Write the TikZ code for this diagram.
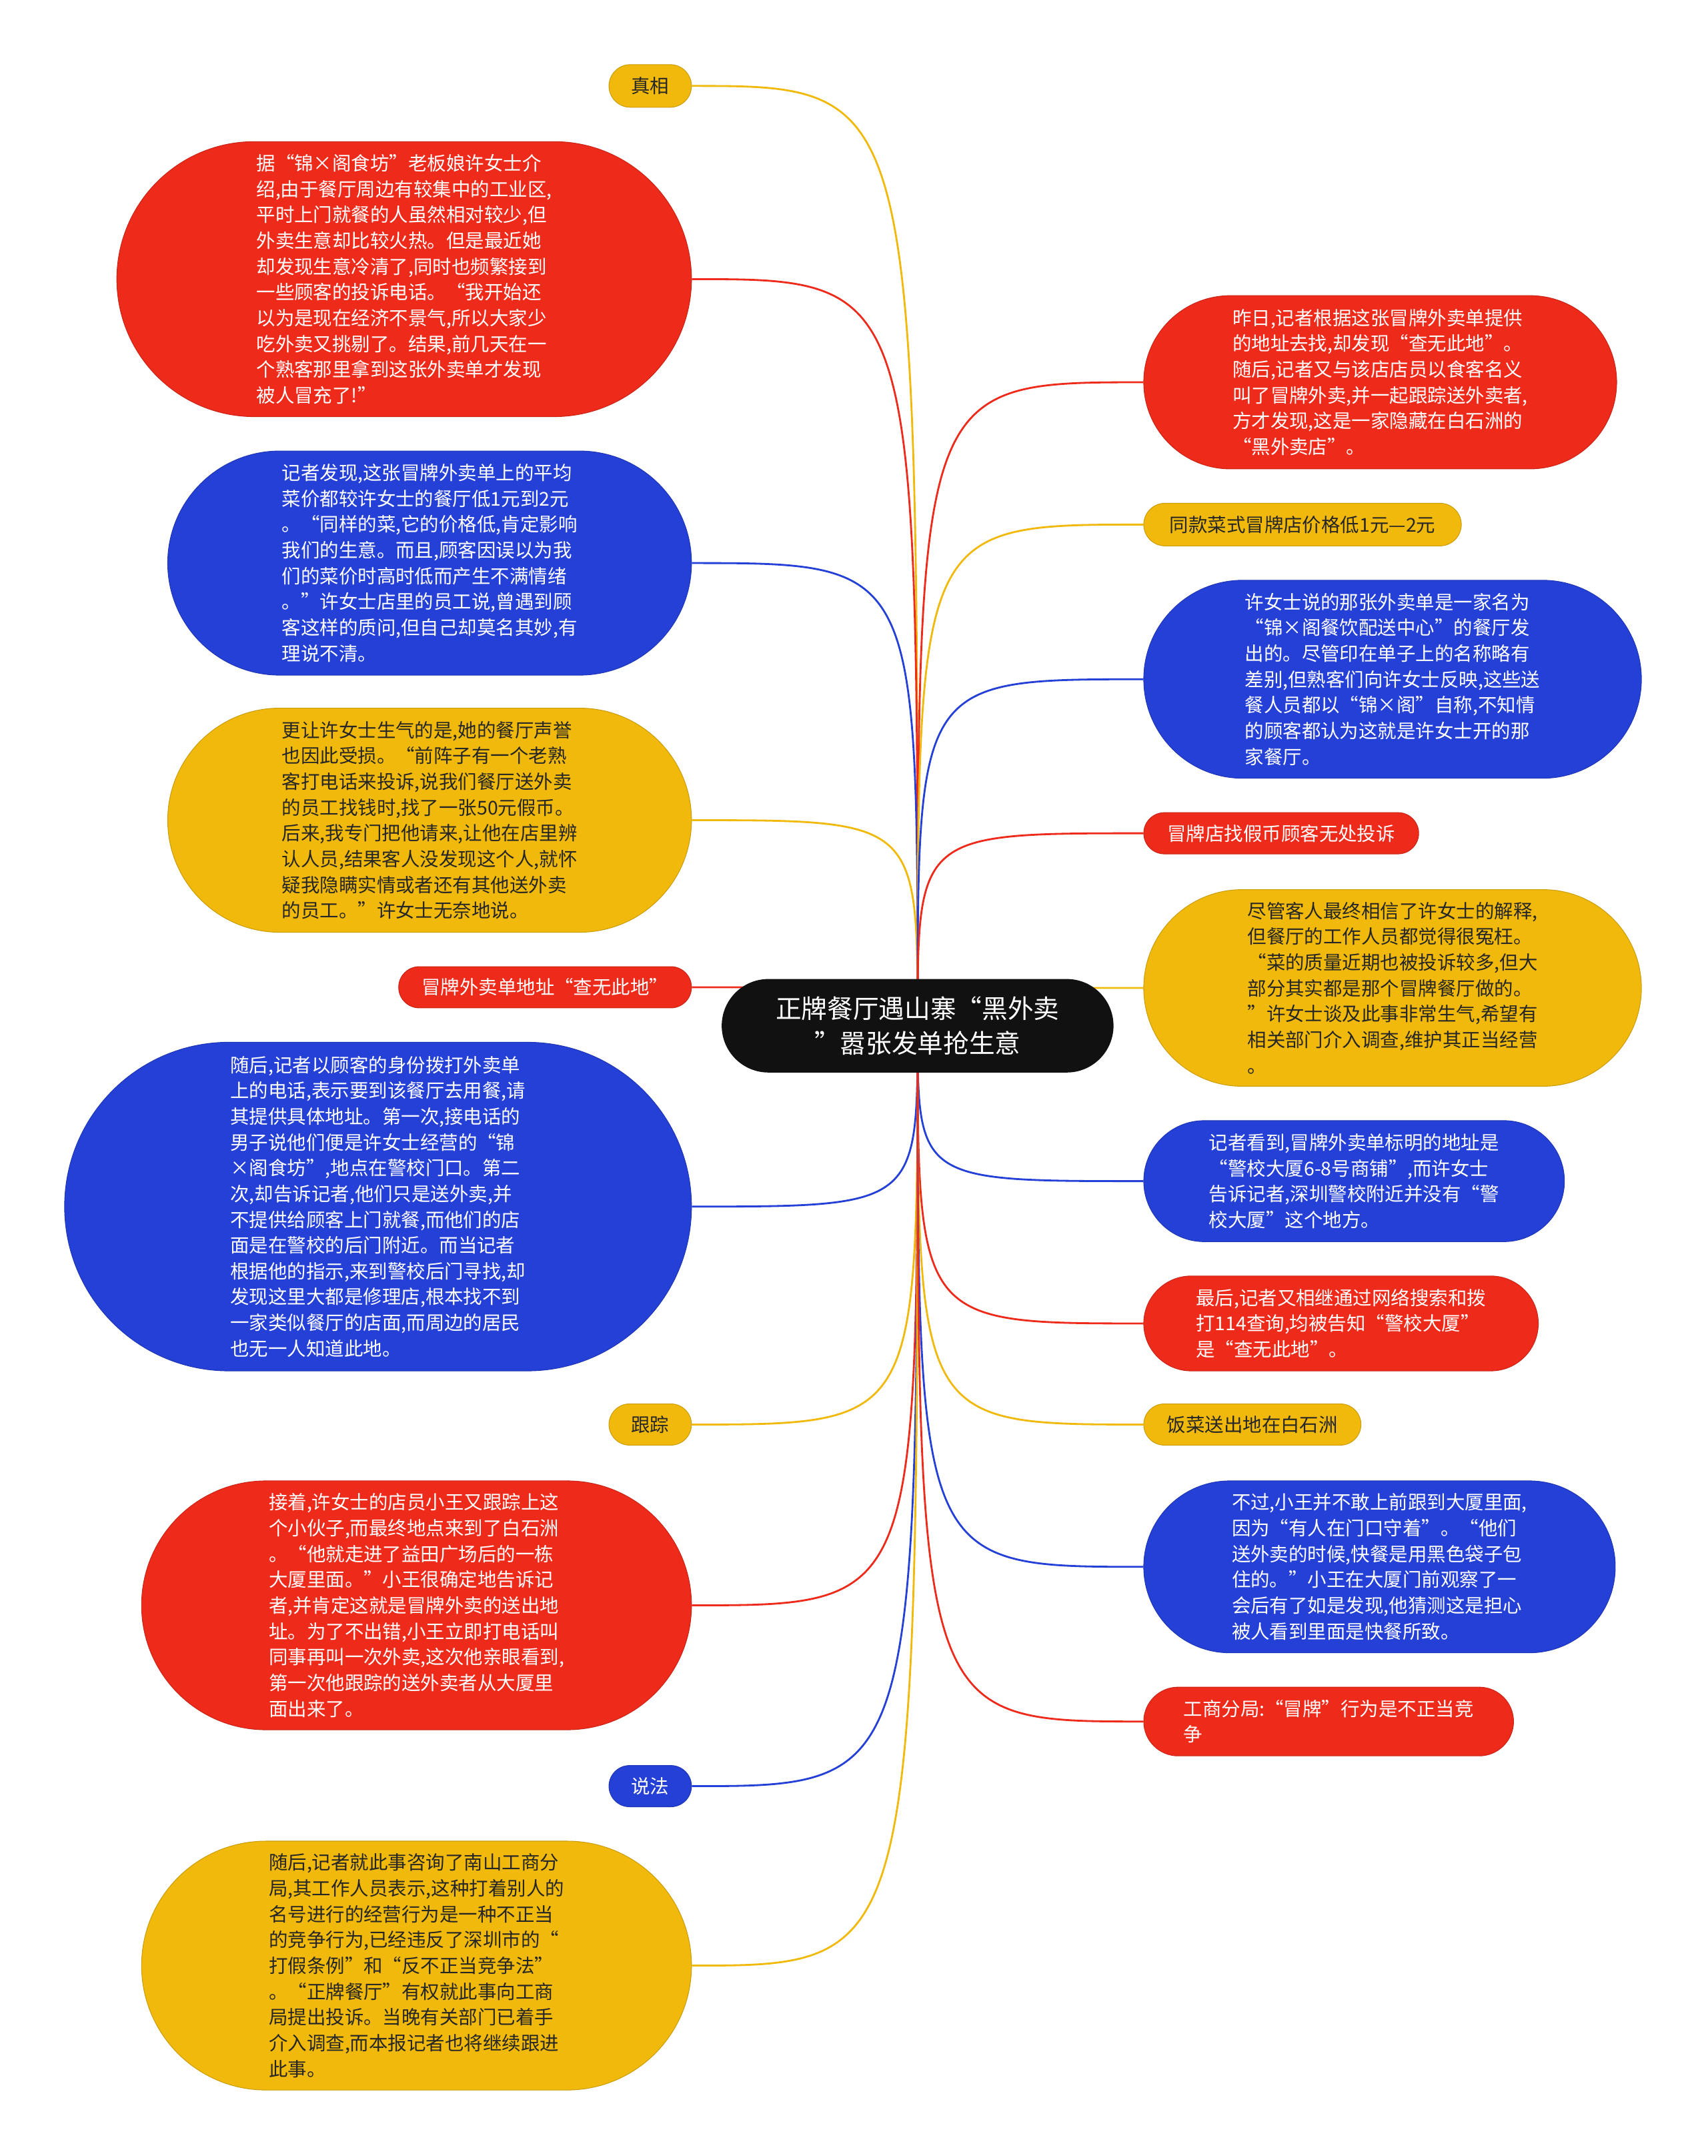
\documentclass[tikz,border=0pt]{standalone}
\usepackage{fontspec}
\setmainfont{Noto Sans CJK SC}
\usepackage{tikz}
\usetikzlibrary{shapes.misc,backgrounds}
\definecolor{MapRed}{RGB}{238,42,27}
\definecolor{MapBlue}{RGB}{36,64,214}
\definecolor{MapYel}{RGB}{240,185,12}
\definecolor{MapInk}{RGB}{17,17,17}
\definecolor{YelText}{RGB}{38,38,38}
\tikzset{
  topic/.style={rounded rectangle,fill=MapInk,text=white,inner sep=0pt,
                align=center,font=\fontsize{11}{14.6}\selectfont},
  leaf/.style={rounded rectangle,inner sep=0pt,align=left,
               font=\fontsize{8.1}{11}\selectfont},
  rd/.style={leaf,fill=MapRed,draw=MapRed!85!black,line width=0.3pt,text=white},
  bl/.style={leaf,fill=MapBlue,draw=MapBlue!85!black,line width=0.3pt,text=white},
  yl/.style={leaf,fill=MapYel,draw=MapYel!85!black,line width=0.3pt,text=YelText},
  sz/.style 2 args={minimum width=#1*0.020612cm,minimum height=#2*0.020612cm},
  rlink/.style={MapRed,line width=0.8pt},
  blink/.style={MapBlue,line width=0.8pt},
  ylink/.style={MapYel,line width=0.8pt},
}
\begin{document}
\begin{tikzpicture}[x=0.020612cm,y=-0.020612cm]
  \useasboundingbox (0,0) rectangle (1242,1568);
  \node[topic,sz={285}{68}] (ctr) at (667.5,746) {正牌餐厅遇山寨“黑外卖\\”嚣张发单抢生意};
  % left branch
  \node[yl,sz={60}{31}] (truth) at (473,62.5) {真相};
  \node[rd,sz={418}{200}] (boss) at (294,203) {据“锦×阁食坊”老板娘许女士介\\绍,由于餐厅周边有较集中的工业区,\\平时上门就餐的人虽然相对较少,但\\外卖生意却比较火热。但是最近她\\却发现生意冷清了,同时也频繁接到\\一些顾客的投诉电话。“我开始还\\以为是现在经济不景气,所以大家少\\吃外卖又挑剔了。结果,前几天在一\\个熟客那里拿到这张外卖单才发现\\被人冒充了!”};
  \node[bl,sz={381}{163}] (price) at (312.5,409.5) {记者发现,这张冒牌外卖单上的平均\\菜价都较许女士的餐厅低1元到2元\\。“同样的菜,它的价格低,肯定影响\\我们的生意。而且,顾客因误以为我\\们的菜价时高时低而产生不满情绪\\。”许女士店里的员工说,曾遇到顾\\客这样的质问,但自己却莫名其妙,有\\理说不清。};
  \node[yl,sz={381}{163}] (fame) at (312.5,596.5) {更让许女士生气的是,她的餐厅声誉\\也因此受损。“前阵子有一个老熟\\客打电话来投诉,说我们餐厅送外卖\\的员工找钱时,找了一张50元假币。\\后来,我专门把他请来,让他在店里辨\\认人员,结果客人没发现这个人,就怀\\疑我隐瞒实情或者还有其他送外卖\\的员工。”许女士无奈地说。};
  \node[rd,sz={213}{30}] (addr) at (396.5,718) {冒牌外卖单地址“查无此地”};
  \node[bl,sz={456}{239}] (call) at (275,877.5) {随后,记者以顾客的身份拨打外卖单\\上的电话,表示要到该餐厅去用餐,请\\其提供具体地址。第一次,接电话的\\男子说他们便是许女士经营的“锦\\×阁食坊”,地点在警校门口。第二\\次,却告诉记者,他们只是送外卖,并\\不提供给顾客上门就餐,而他们的店\\面是在警校的后门附近。而当记者\\根据他的指示,来到警校后门寻找,却\\发现这里大都是修理店,根本找不到\\一家类似餐厅的店面,而周边的居民\\也无一人知道此地。};
  \node[yl,sz={60}{30}] (track) at (473,1036) {跟踪};
  \node[rd,sz={400}{181}] (follow) at (303,1167.5) {接着,许女士的店员小王又跟踪上这\\个小伙子,而最终地点来到了白石洲\\。“他就走进了益田广场后的一栋\\大厦里面。”小王很确定地告诉记\\者,并肯定这就是冒牌外卖的送出地\\址。为了不出错,小王立即打电话叫\\同事再叫一次外卖,这次他亲眼看到,\\第一次他跟踪的送外卖者从大厦里\\面出来了。};
  \node[bl,sz={60}{30}] (law) at (473,1299) {说法};
  \node[yl,sz={400}{181}] (bureau) at (303,1429.5) {随后,记者就此事咨询了南山工商分\\局,其工作人员表示,这种打着别人的\\名号进行的经营行为是一种不正当\\的竞争行为,已经违反了深圳市的“\\打假条例”和“反不正当竞争法”\\。“正牌餐厅”有权就此事向工商\\局提出投诉。当晚有关部门已着手\\介入调查,而本报记者也将继续跟进\\此事。};
  % right branch
  \node[rd,sz={344}{126}] (found) at (1004,278) {昨日,记者根据这张冒牌外卖单提供\\的地址去找,却发现“查无此地”。\\随后,记者又与该店店员以食客名义\\叫了冒牌外卖,并一起跟踪送外卖者,\\方才发现,这是一家隐藏在白石洲的\\“黑外卖店”。};
  \node[yl,sz={231}{31}] (cheap) at (947.5,381.5) {同款菜式冒牌店价格低1元—2元};
  \node[bl,sz={362}{144}] (name) at (1013,494) {许女士说的那张外卖单是一家名为\\“锦×阁餐饮配送中心”的餐厅发\\出的。尽管印在单子上的名称略有\\差别,但熟客们向许女士反映,这些送\\餐人员都以“锦×阁”自称,不知情\\的顾客都认为这就是许女士开的那\\家餐厅。};
  \node[rd,sz={200}{30}] (fakebill) at (932,606) {冒牌店找假币顾客无处投诉};
  \node[yl,sz={362}{143}] (wrong) at (1013,718.5) {尽管客人最终相信了许女士的解释,\\但餐厅的工作人员都觉得很冤枉。\\“菜的质量近期也被投诉较多,但大\\部分其实都是那个冒牌餐厅做的。\\”许女士谈及此事非常生气,希望有\\相关部门介入调查,维护其正当经营\\。};
  \node[bl,sz={306}{88}] (sign) at (985,859) {记者看到,冒牌外卖单标明的地址是\\“警校大厦6-8号商铺”,而许女士\\告诉记者,深圳警校附近并没有“警\\校大厦”这个地方。};
  \node[rd,sz={287}{69}] (search) at (975.5,962.5) {最后,记者又相继通过网络搜索和拨\\打114查询,均被告知“警校大厦”\\是“查无此地”。};
  \node[yl,sz={158}{30}] (sent) at (911,1036) {饭菜送出地在白石洲};
  \node[bl,sz={343}{125}] (watch) at (1003.5,1139.5) {不过,小王并不敢上前跟到大厦里面,\\因为“有人在门口守着”。“他们\\送外卖的时候,快餐是用黑色袋子包\\住的。”小王在大厦门前观察了一\\会后有了如是发现,他猜测这是担心\\被人看到里面是快餐所致。};
  \node[rd,sz={269}{50}] (unfair) at (966.5,1252) {工商分局:“冒牌”行为是不正当竞\\争};
  \begin{scope}[on background layer]
    \foreach \n/\s in {truth/ylink,boss/rlink,price/blink,fame/ylink,addr/rlink,
                       call/blink,track/ylink,follow/rlink,law/blink,bureau/ylink}
      \draw[\s] (ctr.center) .. controls (ctr.center |- \n.east) .. (\n.east);
    \foreach \n/\s in {found/rlink,cheap/ylink,name/blink,fakebill/rlink,wrong/ylink,
                       sign/blink,search/rlink,sent/ylink,watch/blink,unfair/rlink}
      \draw[\s] (ctr.center) .. controls (ctr.center |- \n.west) .. (\n.west);
  \end{scope}
\end{tikzpicture}
\end{document}
